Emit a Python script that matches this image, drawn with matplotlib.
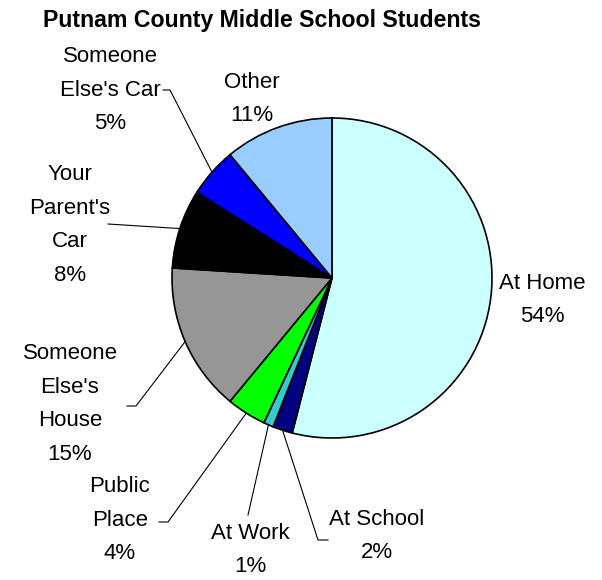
import numpy as np
import matplotlib.pyplot as plt

labels = ["At Home", "At School", "At Work", "Public\nPlace", "Someone\nElse's\nHouse",
          "Your\nParent's\nCar", "Someone\nElse's Car", "Other"]
values = [54, 2, 1, 4, 15, 8, 5, 11]
colors = ["#CCFFFF", "#000080", "#33CCCC", "#00FF00", "#969696",
          "#000000", "#0000FF", "#99CCFF"]

# pie centre / radius in pixels, used to place labels
CX, CY, R = 332, 278, 160
W, H = 602, 580


def px(x, y):
    return ((x - CX) / R, (CY - y) / R)


# label centre, and leader path (text side -> elbow) in pixels, None = no leader
label_pos = [(542, 300), (377, 536), (250, 550), (120, 520), (70, 404),
             (70, 225), (110, 90), (252, 99)]
leaders = [None,
           [(328, 540), (318, 540)],
           [(248, 515)],
           [(159, 522), (168, 522)],
           [(127, 406), (136, 406)],
           [(108, 224)],
           [(163, 90), (170, 90)],
           None]

plt.rcParams['font.family'] = ['Liberation Sans', 'DejaVu Sans']
fig = plt.figure(figsize=(W / 100, H / 100), dpi=100)
ax = fig.add_axes([0, 0, 1, 1])

wedges, _ = ax.pie(values, colors=colors, startangle=90, counterclock=False,
                   radius=1, wedgeprops=dict(edgecolor='black', linewidth=1.2))

ax.set_xlim(-CX / R, (W - CX) / R)
ax.set_ylim(-(H - CY) / R, CY / R)
ax.set_aspect('auto')
ax.axis('off')

for w, lab, v, pos, lead in zip(wedges, labels, values, label_pos, leaders):
    tx, ty = px(*pos)
    ax.text(tx, ty, f"{lab}\n{v}%", ha='center', va='center', fontsize=16,
            linespacing=1.8)
    if lead is not None:
        mid = np.deg2rad((w.theta1 + w.theta2) / 2)
        pts = [px(*p) for p in lead] + [(np.cos(mid), np.sin(mid))]
        xs, ys = zip(*pts)
        ax.plot(xs, ys, color='black', linewidth=0.8)

ax.text(*px(262, 20), "Putnam County Middle School Students", ha='center',
        va='center', fontsize=16.7, fontweight='bold')

fig.savefig("out.png", dpi=100)
